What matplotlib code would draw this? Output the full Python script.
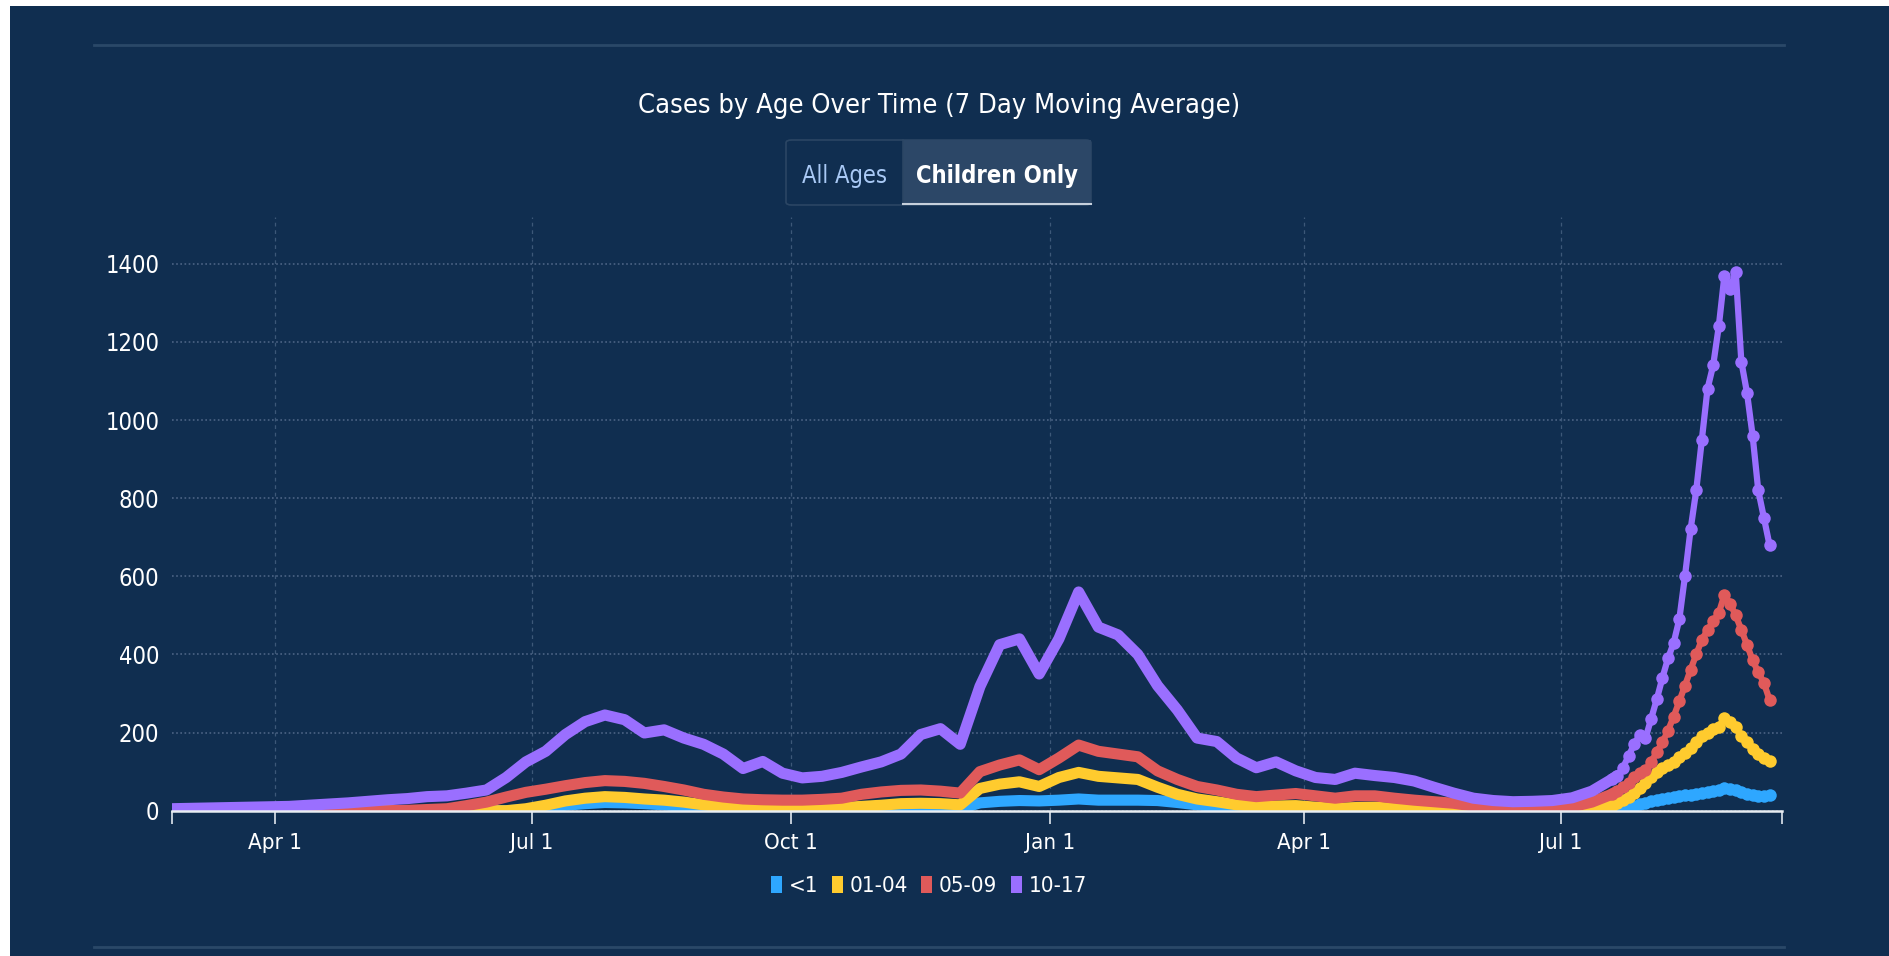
import pandas as pd
import matplotlib
matplotlib.use("Agg")
import matplotlib.pyplot as plt
from matplotlib import font_manager as fm
from matplotlib.patches import Patch, Rectangle, FancyBboxPatch
from matplotlib.lines import Line2D

# -------- data (7 day moving average of cases) --------
# weekly points up to mid July 2021, then every 2 days through the surge
weekly_dates = pd.date_range("2020-02-24", "2021-07-19", freq="7D")
late_dates = pd.date_range("2021-07-21", "2021-09-13", freq="2D")
dates = weekly_dates.append(late_dates)

under1 = [0] * 18 + [2, 7, 14, 18, 21, 20, 18, 15, 11, 7, 5, 4, 4, 3, 3, 3, 3, 4, 4, 5,
                     5, 5, 5, 20, 24, 26, 25, 27, 30, 27, 27, 27, 26, 21, 15, 11, 7, 4, 4, 3,
                     3, 3, 3, 3, 2, 2, 2, 1, 1, 1, 1, 1, 1, 1, 1, 2] + \
         [3, 5, 8, 12, 16, 20, 24, 27, 30, 33, 35, 37, 39, 41, 43, 45, 47, 50, 53, 57,
          56, 53, 48, 43, 40, 38, 38, 39]

age01_04 = [0] * 18 + [5, 14, 25, 32, 36, 34, 30, 27, 22, 15, 9, 7, 6, 6, 6, 7, 8, 11, 14, 18,
                       19, 18, 15, 57, 68, 74, 62, 85, 98, 88, 84, 80, 60, 42, 30, 23, 15, 11, 12, 13,
                       9, 6, 8, 9, 6, 4, 3, 2, 1, 1, 0, 0, 0, 1, 4, 13] + \
           [20, 27, 35, 45, 58, 70, 85, 100, 110, 117, 125, 137, 147, 160, 175, 190, 200, 208,
            215, 237, 228, 215, 190, 175, 158, 145, 135, 128]

age05_09 = [0] * 12 + [1, 3, 5, 13, 22, 35, 47, 55, 64, 72, 77, 75, 70, 62, 53, 42, 35, 30, 28, 27,
                       27, 29, 32, 42, 48, 52, 53, 50, 45, 100, 117, 130, 105, 135, 168, 152, 145, 138,
                       102, 80, 62, 53, 42, 36, 40, 44, 38, 32, 38, 38, 32, 27, 23, 19, 12, 8, 6, 5,
                       6, 10, 22, 42] + \
           [50, 60, 72, 87, 96, 104, 125, 150, 175, 205, 241, 280, 320, 361, 400, 438, 462, 485,
            506, 553, 530, 500, 463, 425, 385, 355, 327, 284]

age10_17 = [5, 6, 7, 8, 9, 10, 11, 14, 17, 20, 24, 28, 31, 36, 38, 45, 53, 85, 125, 152,
            195, 228, 245, 233, 199, 207, 186, 170, 145, 108, 126, 96, 84, 88, 98, 112, 125, 145, 195, 210,
            170, 318, 425, 440, 350, 440, 560, 470, 450, 400, 320, 258, 186, 177, 135, 110, 125, 102, 85, 80,
            96, 90, 85, 76, 60, 45, 32, 26, 23, 24, 26, 33, 50, 80] + \
           [90, 110, 140, 170, 195, 185, 235, 285, 340, 390, 430, 490, 600, 720, 820, 950, 1080, 1140,
            1240, 1370, 1335, 1380, 1150, 1070, 960, 820, 750, 680]

labels = ["<1", "01-04", "05-09", "10-17"]
colors = ["#2ea7ff", "#ffcb2e", "#e05a5a", "#9a6fff"]

tick_dates = pd.to_datetime(["2020-04-01", "2020-07-01", "2020-10-01",
                             "2021-01-01", "2021-04-01", "2021-07-01"])
tick_labels = ["Apr 1", "Jul 1", "Oct 1", "Jan 1", "Apr 1", "Jul 1"]

# -------- fonts --------
have = {f.name for f in fm.fontManager.ttflist}
if "Liberation Sans Narrow" in have:
    plt.rcParams["font.family"] = ["Liberation Sans Narrow", "DejaVu Sans"]
else:
    plt.rcParams["font.family"] = ["DejaVu Sans"]
    plt.rcParams["font.stretch"] = "condensed"

BG = "#102e50"
W, H = 1890, 956

fig = plt.figure(figsize=(W / 100, H / 100), dpi=100, facecolor=BG)
ax = fig.add_axes([172 / W, 1 - 810.7 / H, (1782 - 172) / W, (810.7 - 217) / H])
ax.set_facecolor(BG)

# weekly stretch drawn as a thick band, the dense 2-day stretch as dots on a line
n_week = len(weekly_dates)
for i, (vals, c) in enumerate(zip([under1, age01_04, age05_09, age10_17], colors)):
    z = 2 + i
    ax.plot(dates[:n_week + 1], vals[:n_week + 1], color=c, lw=8,
            solid_joinstyle="round", solid_capstyle="round", zorder=z)
    ax.plot(dates[n_week - 1:], vals[n_week - 1:], color=c, lw=4.5, marker="o", ms=9, mew=0,
            solid_joinstyle="round", solid_capstyle="round", zorder=z)

ax.set_xlim(pd.Timestamp("2020-02-24 12:00"), pd.Timestamp("2021-09-17 10:00"))
ax.set_ylim(0, 1520)

ax.set_xticks(tick_dates)
ax.set_xticklabels(tick_labels)
ax.set_xticks([pd.Timestamp("2020-02-24 12:00"), pd.Timestamp("2021-09-17 10:00")], minor=True)
ax.set_yticks(range(0, 1401, 200))

ax.tick_params(axis="x", which="both", direction="out", length=9, width=1.2,
               color="#dfe6ee", labelcolor="white", labelsize=16, pad=7)
ax.tick_params(axis="y", length=0, labelcolor="white", labelsize=17, pad=9)

ax.yaxis.grid(True, linestyle=(0, (1, 1.5)), color="#4b6384", lw=1.2)
ax.xaxis.grid(True, which="major", linestyle=(0, (3, 3)), color="#3d5878", lw=0.9)
ax.set_axisbelow(True)

for s in ["top", "right", "left"]:
    ax.spines[s].set_visible(False)
ax.spines["bottom"].set_color("#e8edf2")
ax.spines["bottom"].set_linewidth(1.8)
ax.spines["bottom"].set_zorder(6)

# -------- title and toggle buttons --------
fig.text(0.497, 1 - 106 / H, "Cases by Age Over Time (7 Day Moving Average)",
         ha="center", va="center", fontsize=19.5, color="white")

x0, x1, xm = 786 / W, 1091 / W, 903 / W
y0, y1 = 1 - 205 / H, 1 - 140 / H
fig.patches.append(FancyBboxPatch((x0, y0), x1 - x0, y1 - y0, boxstyle="round,pad=0,rounding_size=0.003",
                                  transform=fig.transFigure, facecolor=BG, edgecolor="#2b4664", lw=1.2))
fig.patches.append(Rectangle((xm, y0), x1 - xm, y1 - y0, transform=fig.transFigure,
                             facecolor="#2c4767", edgecolor="none"))
fig.lines.append(Line2D([xm, xm], [y0, y1], transform=fig.transFigure, color="#2b4664", lw=1.2))
fig.lines.append(Line2D([xm, x1], [y0 + 1.5 / H, y0 + 1.5 / H], transform=fig.transFigure,
                        color="#c6d0dc", lw=1.5))
fig.text(845 / W, 1 - 176 / H, "All Ages", ha="center", va="center", fontsize=17, color="#a9c9f5")
fig.text(997 / W, 1 - 176 / H, "Children Only", ha="center", va="center", fontsize=17,
         color="white", fontweight="bold")

# -------- legend --------
handles = [Patch(facecolor=c, edgecolor="none") for c in colors]
fig.legend(handles, labels, loc="center", bbox_to_anchor=(0.4915, 1 - 886 / H), ncol=4, frameon=False,
           fontsize=16, handlelength=0.5, handleheight=0.85, handletextpad=0.3,
           columnspacing=0.6, labelcolor="white")

# -------- page decorations --------
for yy in [1 - 45 / H, 1 - 947 / H]:
    fig.lines.append(Line2D([94 / W, 1784 / W], [yy, yy], transform=fig.transFigure,
                            color="#2a4868", lw=2))
fig.patches.append(Rectangle((0, 0), 10 / W, 1, transform=fig.transFigure, facecolor="white",
                             edgecolor="none"))
fig.patches.append(Rectangle((0, 1 - 6 / H), 1, 6 / H, transform=fig.transFigure, facecolor="white",
                             edgecolor="none"))

fig.savefig("out.png", dpi=100, facecolor=BG)
